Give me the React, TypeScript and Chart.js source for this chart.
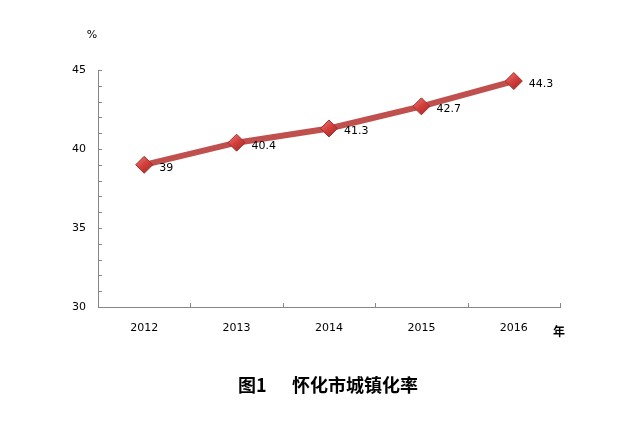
import { useEffect, useRef } from "react";
import { Chart, ChartConfiguration, Plugin, registerables } from "chart.js";

Chart.register(...registerables);

const years = ["2012", "2013", "2014", "2015", "2016"];
const rates = [39, 40.4, 41.3, 42.7, 44.3];
const yMin = 30;
const yMax = 45;

const axisColor = "#868686";
const lineColor = "#C0504D";
const font = "'DejaVu Sans', Verdana, sans-serif";

// inward tick marks, point labels and the loose texts
const decorPlugin: Plugin = {
  id: "decor",
  afterDraw(chart) {
    const { ctx, chartArea, scales } = chart;
    const x = scales.x;
    const y = scales.y;
    ctx.save();
    ctx.strokeStyle = axisColor;
    ctx.lineWidth = 1;

    // y ticks (every 1)
    for (let v = yMin; v <= yMax; v++) {
      const py = Math.round(y.getPixelForValue(v)) + 0.5;
      ctx.beginPath();
      ctx.moveTo(chartArea.left, py);
      ctx.lineTo(chartArea.left + 4, py);
      ctx.stroke();
    }
    // x ticks at category boundaries
    for (let i = 0; i < years.length; i++) {
      const px =
        i < years.length - 1
          ? (x.getPixelForTick(i) + x.getPixelForTick(i + 1)) / 2
          : chartArea.right;
      const rx = Math.round(px) + 0.5;
      ctx.beginPath();
      ctx.moveTo(rx, chartArea.bottom);
      ctx.lineTo(rx, chartArea.bottom - 4);
      ctx.stroke();
    }

    // data labels
    const meta = chart.getDatasetMeta(0);
    ctx.fillStyle = "#000";
    ctx.font = `11px ${font}`;
    ctx.textAlign = "left";
    ctx.textBaseline = "middle";
    meta.data.forEach((pt, i) => {
      ctx.fillText(String(rates[i]), pt.x + 15, pt.y + 3);
    });

    // unit labels
    ctx.font = `11px ${font}`;
    ctx.textAlign = "center";
    ctx.fillText("%", 92, 35);
    ctx.font = "bold 12px 'Noto Sans CJK SC', sans-serif";
    ctx.fillText("年", 559, 331);

    // caption
    ctx.font = "bold 18px 'Noto Sans CJK SC', serif";
    ctx.textAlign = "left";
    ctx.fillText("图1", 238, 385);
    ctx.fillText("怀化市城镇化率", 292, 385);
    ctx.restore();
  },
};

export default function App() {
  const canvasRef = useRef<HTMLCanvasElement>(null);
  const chartRef = useRef<Chart | null>(null);

  useEffect(() => {
    if (!canvasRef.current) return;
    const ctx = canvasRef.current.getContext("2d");
    if (!ctx) return;

    if (chartRef.current) {
      chartRef.current.destroy();
    }

    const config: ChartConfiguration = {
      type: "line",
      data: {
        labels: years,
        datasets: [
          {
            label: "城镇化率",
            data: rates,
            borderColor: lineColor,
            borderWidth: 6,
            tension: 0,
            pointStyle: "rectRot",
            pointRadius: 8.5,
            pointBackgroundColor: (c: any) => {
              const el = c.element;
              if (!el || el.x === undefined) return "#D4423E";
              const g = c.chart.ctx.createLinearGradient(el.x - 6, el.y - 8, el.x + 6, el.y + 8);
              g.addColorStop(0, "#E8726E");
              g.addColorStop(0.5, "#D23E3A");
              g.addColorStop(1, "#A92B28");
              return g;
            },
            pointBorderColor: "#9E2F2C",
            pointBorderWidth: 1,
          },
        ],
      },
      options: {
        responsive: false,
        animation: false,
        layout: {
          padding: { top: 70, right: 62, bottom: 0, left: 0 },
        },
        scales: {
          x: {
            offset: true,
            grid: { display: false, drawTicks: false },
            border: { display: true, color: axisColor },
            ticks: {
              color: "#000",
              font: { family: font, size: 11 },
              padding: 15,
            },
            afterFit: (scale) => {
              scale.height = 115;
            },
          },
          y: {
            min: yMin,
            max: yMax,
            grid: { display: false, drawTicks: false },
            border: { display: true, color: axisColor },
            ticks: {
              stepSize: 1,
              autoSkip: false,
              color: "#000",
              font: { family: font, size: 11 },
              padding: 12,
              callback: (value) => (Number(value) % 5 === 0 ? String(value) : ""),
            },
            afterFit: (scale) => {
              scale.width = 98;
            },
          },
        },
        plugins: {
          legend: { display: false },
          tooltip: { enabled: false },
        },
      },
      plugins: [decorPlugin],
    };

    chartRef.current = new Chart(ctx, config);

    return () => {
      if (chartRef.current) {
        chartRef.current.destroy();
      }
    };
  }, []);

  return (
    <div style={{ position: "absolute", left: 0, top: 0, width: 622, height: 422, background: "#fff" }}>
      <canvas ref={canvasRef} width={622} height={422}></canvas>
    </div>
  );
}
